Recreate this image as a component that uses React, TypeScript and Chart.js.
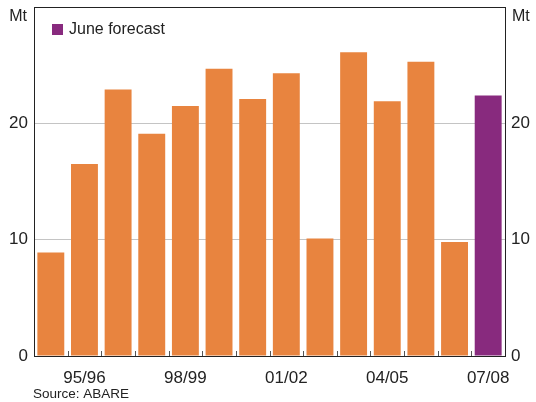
import React, { useEffect, useRef } from "react";
import { Chart, registerables } from "chart.js";

Chart.register(...registerables);

const years = ["94/95", "95/96", "96/97", "97/98", "98/99", "99/00", "00/01", "01/02", "02/03", "03/04", "04/05", "05/06", "06/07", "07/08"];
const production = [8.9, 16.5, 22.9, 19.1, 21.5, 24.7, 22.1, 24.3, 10.1, 26.1, 21.9, 25.3, 9.8, 22.4];
const isForecast = [false, false, false, false, false, false, false, false, false, false, false, false, false, true];
const yTicks = [0, 10, 20];
const legendLabel = "June forecast";
const unitLabel = "Mt";
const sourceText = "Source: ABARE";

const ORANGE = "#E8843F";
const PURPLE = "#882A7E";
const FONT = "'Liberation Sans', Arial, sans-serif";

const decor = {
  id: "decor",
  afterDraw(chart: any) {
    const { ctx, chartArea } = chart;
    const x = chart.scales.x;
    ctx.save();
    ctx.strokeStyle = "#555";
    ctx.lineWidth = 1;
    for (let i = 0; i < years.length - 1; i++) {
      const px = Math.round((x.getPixelForValue(i) + x.getPixelForValue(i + 1)) / 2) + 0.5;
      ctx.beginPath();
      ctx.moveTo(px, chartArea.bottom);
      ctx.lineTo(px, chartArea.bottom - 5);
      ctx.stroke();
    }
    ctx.strokeStyle = "#222";
    ctx.lineWidth = 1;
    ctx.strokeRect(Math.round(chartArea.left) + 0.5, Math.round(chartArea.top) + 0.5, Math.round(chartArea.right - chartArea.left), Math.round(chartArea.bottom - chartArea.top));
    ctx.fillStyle = "#222";
    ctx.font = `16px ${FONT}`;
    ctx.textBaseline = "middle";
    ctx.textAlign = "right";
    ctx.fillText(unitLabel, chartArea.left - 7, 17);
    ctx.textAlign = "left";
    ctx.fillText(unitLabel, chartArea.right + 7, 17);
    ctx.fillStyle = PURPLE;
    ctx.fillRect(chartArea.left + 18, 24, 11, 11);
    ctx.fillStyle = "#222";
    ctx.font = `16px ${FONT}`;
    ctx.fillText(legendLabel, chartArea.left + 35, 30);
    ctx.font = `13.5px ${FONT}`;
    ctx.fillText(sourceText, chartArea.left - 1, 394);
    ctx.restore();
  },
};

const fitY = (w: number) => (s: any) => {
  s.width = w;
  s.paddingTop = 0;
  s.paddingBottom = 0;
};

export default function App() {
  const ref = useRef<HTMLCanvasElement | null>(null);
  useEffect(() => {
    document.body.style.margin = "0";
    const chart = new Chart(ref.current!, {
      type: "bar",
      data: {
        labels: years,
        datasets: [
          {
            label: "Production",
            data: production,
            backgroundColor: isForecast.map((f) => (f ? PURPLE : ORANGE)),
            categoryPercentage: 0.8,
            barPercentage: 1,
            yAxisID: "y",
          },
        ],
      },
      options: {
        animation: false,
        responsive: false,
        layout: { padding: { top: 7, bottom: 0, left: 0, right: 0 } },
        plugins: { legend: { display: false }, tooltip: { enabled: false } },
        scales: {
          x: {
            grid: { display: false },
            border: { display: false },
            ticks: {
              autoSkip: false,
              maxRotation: 0,
              padding: 4,
              color: "#222",
              font: { family: FONT, size: 17 },
              callback: (_v: any, i: number) => (i % 3 === 1 ? years[i] : ""),
            },
            afterFit: (s: any) => {
              s.height = 46;
              s.paddingLeft = 0;
              s.paddingRight = 0;
            },
          },
          y: {
            position: "left",
            min: 0,
            max: 30,
            afterBuildTicks: (s: any) => {
              s.ticks = [...yTicks, 30].map((v) => ({ value: v }));
            },
            grid: { color: (c: any) => (c.tick && (c.tick.value === 0 || c.tick.value === 30) ? "rgba(0,0,0,0)" : "#c4c4c4"), drawTicks: false },
            border: { display: false },
            ticks: {
              padding: 6,
              color: "#222",
              font: { family: FONT, size: 17 },
              callback: (v: any) => (yTicks.includes(v) ? String(v) : ""),
            },
            afterFit: fitY(34),
          },
          y2: {
            position: "right",
            min: 0,
            max: 30,
            afterBuildTicks: (s: any) => {
              s.ticks = [...yTicks, 30].map((v) => ({ value: v }));
            },
            grid: { display: false, drawTicks: false },
            border: { display: false },
            ticks: {
              padding: 6,
              color: "#222",
              font: { family: FONT, size: 17 },
              callback: (v: any) => (yTicks.includes(v) ? String(v) : ""),
            },
            afterFit: fitY(31),
          },
        },
      },
      plugins: [decor],
    });
    return () => chart.destroy();
  }, []);
  return (
    <div style={{ position: "absolute", left: 0, top: 0, width: 536, height: 402, background: "#fff" }}>
      <canvas ref={ref} width={536} height={402} style={{ width: 536, height: 402 }} />
    </div>
  );
}
